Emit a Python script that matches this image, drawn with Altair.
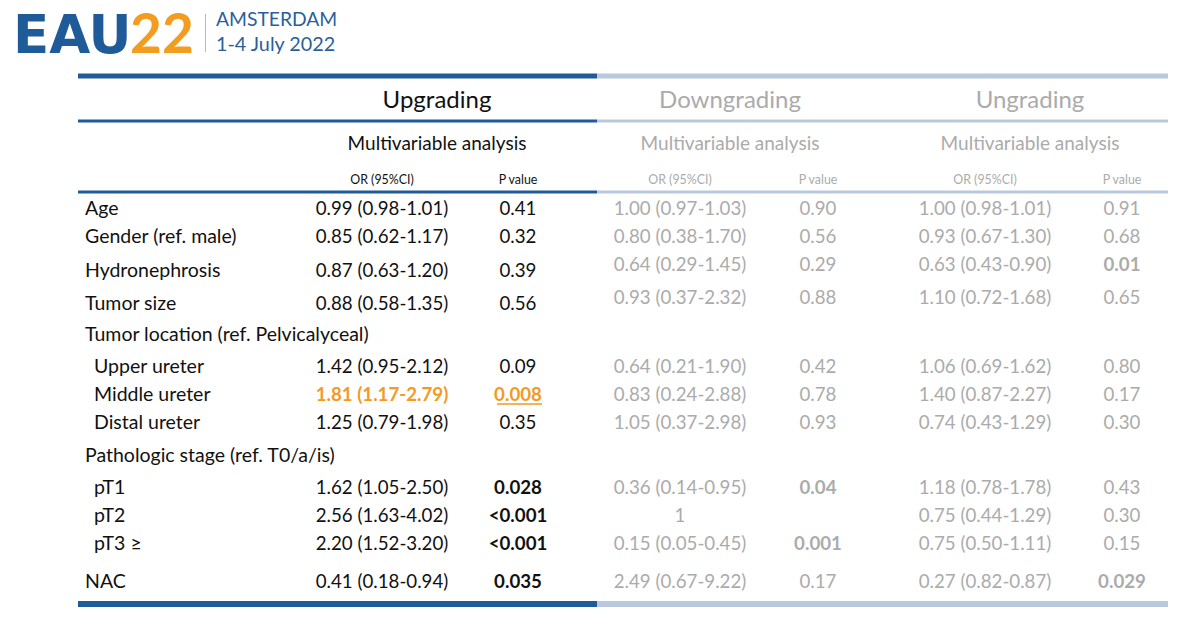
import altair as alt
import pandas as pd

# ---------------- data ----------------
labels = ["Age", "Gender (ref. male)", "Hydronephrosis", "Tumor size",
          "Tumor location (ref. Pelvicalyceal)", "Upper ureter", "Middle ureter",
          "Distal ureter", "Pathologic stage (ref. T0/a/is)", "pT1", "pT2", "pT3 ≥", "NAC"]
indent = [0, 0, 0, 0, 0, 1, 1, 1, 0, 1, 1, 1, 0]
up_or = ["0.99 (0.98-1.01)", "0.85 (0.62-1.17)", "0.87 (0.63-1.20)", "0.88 (0.58-1.35)", "",
         "1.42 (0.95-2.12)", "1.81 (1.17-2.79)", "1.25 (0.79-1.98)", "",
         "1.62 (1.05-2.50)", "2.56 (1.63-4.02)", "2.20 (1.52-3.20)", "0.41 (0.18-0.94)"]
up_p = ["0.41", "0.32", "0.39", "0.56", "", "0.09", "0.008", "0.35", "",
        "0.028", "<0.001", "<0.001", "0.035"]
down_or = ["1.00 (0.97-1.03)", "0.80 (0.38-1.70)", "0.64 (0.29-1.45)", "0.93 (0.37-2.32)", "",
           "0.64 (0.21-1.90)", "0.83 (0.24-2.88)", "1.05 (0.37-2.98)", "",
           "0.36 (0.14-0.95)", "1", "0.15 (0.05-0.45)", "2.49 (0.67-9.22)"]
down_p = ["0.90", "0.56", "0.29", "0.88", "", "0.42", "0.78", "0.93", "",
          "0.04", "", "0.001", "0.17"]
ung_or = ["1.00 (0.98-1.01)", "0.93 (0.67-1.30)", "0.63 (0.43-0.90)", "1.10 (0.72-1.68)", "",
          "1.06 (0.69-1.62)", "1.40 (0.87-2.27)", "0.74 (0.43-1.29)", "",
          "1.18 (0.78-1.78)", "0.75 (0.44-1.29)", "0.75 (0.50-1.11)", "0.27 (0.82-0.87)"]
ung_p = ["0.91", "0.68", "0.01", "0.65", "", "0.80", "0.17", "0.30", "",
         "0.43", "0.30", "0.15", "0.029"]
groups = ["Upgrading", "Downgrading", "Ungrading"]
sub_header = "Multivariable analysis"
col_headers = ["OR (95%CI)", "P value"]
highlight_row = "Middle ureter"   # highlighted in the Upgrading group

# ---------------- layout (pixel positions on the 1200x621 page) ----------------
row_y_left = [209, 237, 271, 304, 335, 367, 395, 423, 456, 488, 516, 544, 582]
row_y_right = [209, 237, 265, 298, 335, 367, 395, 423, 456, 488, 516, 544, 582]
label_x = [85, 94]
group_cx = [437, 730, 1030]
or_cx = [382, 680, 985]
p_cx = [518, 818, 1122]

DARK = "#111111"
GRAY = "#ababab"
ORANGE = "#f29a22"
BLUE = "#1f5a99"
LIGHT = "#b9c9dd"
FONT = "Lato"


def sig(p):
    if p == "":
        return False
    v = float(p.replace("<", ""))
    return v < 0.05


center_norm, center_bold, left_norm = [], [], []

# headers
for g in range(3):
    col = DARK if g == 0 else GRAY
    center_norm.append(dict(x=group_cx[g], y=101, t=groups[g], s=24, c=col))
    center_norm.append(dict(x=group_cx[g], y=144, t=sub_header, s=19, c=col))
    center_norm.append(dict(x=or_cx[g], y=180, t=col_headers[0], s=12.4, c=col))
    center_norm.append(dict(x=p_cx[g], y=180, t=col_headers[1], s=12.4, c=col))

# body
for i, lab in enumerate(labels):
    left_norm.append(dict(x=label_x[indent[i]], y=row_y_left[i], t=lab, s=19.5, c=DARK))
    for g, (ors, ps, ys) in enumerate([(up_or, up_p, row_y_left),
                                        (down_or, down_p, row_y_right),
                                        (ung_or, ung_p, row_y_right)]):
        base = DARK if g == 0 else GRAY
        if ors[i]:
            if g == 0 and lab == highlight_row:
                center_bold.append(dict(x=or_cx[g], y=ys[i], t=ors[i], s=18.7, c=ORANGE))
            else:
                center_norm.append(dict(x=or_cx[g], y=ys[i], t=ors[i], s=18.7, c=base))
        if ps[i]:
            if g == 0 and lab == highlight_row:
                center_bold.append(dict(x=p_cx[g], y=ys[i], t=ps[i], s=18.7, c=ORANGE))
            elif sig(ps[i]):
                center_bold.append(dict(x=p_cx[g], y=ys[i], t=ps[i], s=18.7, c=base))
            else:
                center_norm.append(dict(x=p_cx[g], y=ys[i], t=ps[i], s=18.7, c=base))

# logo
logo_left = [dict(x=216, y=20, t="AMSTERDAM", s=19.3, c="#2b5f9c"),
             dict(x=216, y=45, t="1-4 July 2022", s=19.8, c="#2b5f9c")]
logo_eau = [dict(x=13, y=53, t="EAU", s=53, c=BLUE)]
logo_22 = [dict(x=130, y=53, t="22", s=55, c="#f39c1e")]

# rules
rules = []
for y, w in [(76, 5), (121, 3), (192, 3), (604, 6)]:
    rules.append(dict(x=78, x2=597, y=y, w=w, c=BLUE))
    rules.append(dict(x=597, x2=1168, y=y, w=w, c=LIGHT))
rules.append(dict(x=497, x2=542, y=404, w=1.5, c=ORANGE))
rules.append(dict(x=205, x2=205.8, y=33, w=38, c="#9aa8b8"))

X = alt.X("x:Q", scale=alt.Scale(domain=[8, 1192], nice=False, zero=False), axis=None)
Y = alt.Y("y:Q", scale=alt.Scale(domain=[8, 613], reverse=True, nice=False, zero=False), axis=None)


def text_layer(rows, align, weight, font=FONT, baseline="middle"):
    return alt.Chart(pd.DataFrame(rows)).mark_text(
        align=align, baseline=baseline, font=font, fontWeight=weight
    ).encode(
        x=X, y=Y, text="t:N",
        size=alt.Size("s:Q", scale=None),
        color=alt.Color("c:N", scale=None),
    )


rule_layer = alt.Chart(pd.DataFrame(rules)).mark_rule(strokeCap="butt").encode(
    x=X, x2="x2:Q", y=Y,
    size=alt.Size("w:Q", scale=None),
    color=alt.Color("c:N", scale=None),
)

chart = alt.layer(
    rule_layer,
    text_layer(center_norm, "center", "normal"),
    text_layer(center_bold, "center", "bold"),
    text_layer(left_norm, "left", "normal"),
    text_layer(logo_left, "left", "normal"),
    text_layer(logo_eau, "left", "bold", font="DejaVu Sans", baseline="alphabetic"),
    text_layer(logo_22, "left", "bold", font="Lato", baseline="alphabetic"),
).properties(
    width=1184, height=605, padding=0,
    autosize=alt.AutoSizeParams(type="none"),
    background="white",
).configure_view(stroke=None)

chart.save("out.html", embed_options={"renderer": "svg", "actions": False})
